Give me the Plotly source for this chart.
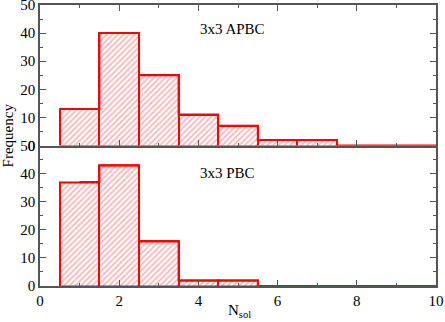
"""
Two stacked histograms of N_sol for 3x3 lattices (APBC on top, PBC below).
"""

import plotly.graph_objects as go

# region Data
N_SOL_BINS   = [1, 2, 3, 4, 5, 6, 7, 8, 9, 10]
COUNTS_APBC  = [13, 40, 25, 11, 7, 2, 2, 0, 0, 0]
COUNTS_PBC   = [37, 43, 16, 2, 2, 0, 0, 0, 0, 0]
PANEL_LABELS = ["3x3 APBC", "3x3 PBC"]
X_TICKS      = [0, 2, 4, 6, 8, 10]
Y_TICKS      = [0, 10, 20, 30, 40, 50]
# endregion

# region Style
FONT       = "Liberation Serif"
RED        = "#ff0000"
HATCH      = "#ff6a6a"
FRAME      = "#555555"
TICK_FONT  = dict(family=FONT, size=15, color="black")

AXIS_COMMON = dict(
    showline=True, linecolor=FRAME, linewidth=1.5,
    ticks="inside", ticklen=6, tickwidth=1.2, tickcolor=FRAME,
    showgrid=False, zeroline=False, tickfont=TICK_FONT,
    automargin=False, ticklabeloverflow="allow",
)
X_MINOR = dict(ticks="inside", ticklen=3, tickwidth=1.2, tickcolor=FRAME, dtick=1)
Y_MINOR = dict(ticks="inside", ticklen=3, tickwidth=1.2, tickcolor=FRAME, dtick=5)
# endregion

fig = go.Figure()

# ── Histogram panels ─────────────────────────────────────────────
for counts, xa, ya in [(COUNTS_APBC, "x", "y"), (COUNTS_PBC, "x2", "y2")]:
    fig.add_trace(go.Bar(
        x=N_SOL_BINS, y=counts, width=1,
        xaxis=xa, yaxis=ya,
        marker=dict(
            color="white",
            line=dict(color=RED, width=2),
            pattern=dict(shape="/", fgcolor=HATCH, bgcolor="white",
                         size=4, solidity=0.45),
        ),
        showlegend=False,
    ))
    # outline of the histogram (shows the empty bins along zero)
    fig.add_trace(go.Scatter(
        x=N_SOL_BINS, y=counts, mode="lines", line_shape="hvh",
        line=dict(color=RED, width=2),
        xaxis=xa, yaxis=ya, showlegend=False, hoverinfo="skip",
    ))

# ── Layout ───────────────────────────────────────────────────────
fig.update_layout(
    width=445, height=322, autosize=False,
    margin=dict(l=40, r=9, t=5, b=36),
    paper_bgcolor="white", plot_bgcolor="white",
    font=dict(family=FONT, size=15, color="black"),
    bargap=0,
    xaxis=dict(**AXIS_COMMON, range=[0, 10], tickvals=X_TICKS,
               showticklabels=False, mirror="ticks", minor=X_MINOR,
               anchor="y"),
    yaxis=dict(**AXIS_COMMON, range=[0, 50], tickvals=Y_TICKS,
               mirror="ticks", minor=Y_MINOR, domain=[0.5, 1], anchor="x"),
    xaxis2=dict(**AXIS_COMMON, range=[0, 10], tickvals=X_TICKS,
                mirror=False, minor=X_MINOR, anchor="y2", matches="x"),
    yaxis2=dict(**AXIS_COMMON, range=[0, 50], tickvals=Y_TICKS,
                mirror="ticks", minor=Y_MINOR, domain=[0, 0.5], anchor="x2"),
)

# panel labels
for label, xr, yr, yv in [(PANEL_LABELS[0], "x", "y", 41.6),
                          (PANEL_LABELS[1], "x2", "y2", 40.2)]:
    fig.add_annotation(
        text=label, xref=xr, yref=yr, x=4.0, y=yv,
        xanchor="left", yanchor="middle", showarrow=False,
        font=dict(family=FONT, size=15, color="black"),
    )

# axis titles
fig.add_annotation(
    text="Frequency", xref="paper", yref="paper", x=-0.08, y=0.537,
    textangle=-90, xanchor="center", yanchor="middle", showarrow=False,
    font=dict(family=FONT, size=15, color="black"),
)
fig.add_annotation(
    text="N<sub>sol</sub>", xref="paper", yref="paper", x=0.505, y=-0.05,
    xanchor="center", yanchor="top", showarrow=False,
    font=dict(family=FONT, size=15, color="black"),
)

fig.write_html(
    "out.html",
    config={"displayModeBar": False},
    post_script="document.body.style.margin='0';",
)
